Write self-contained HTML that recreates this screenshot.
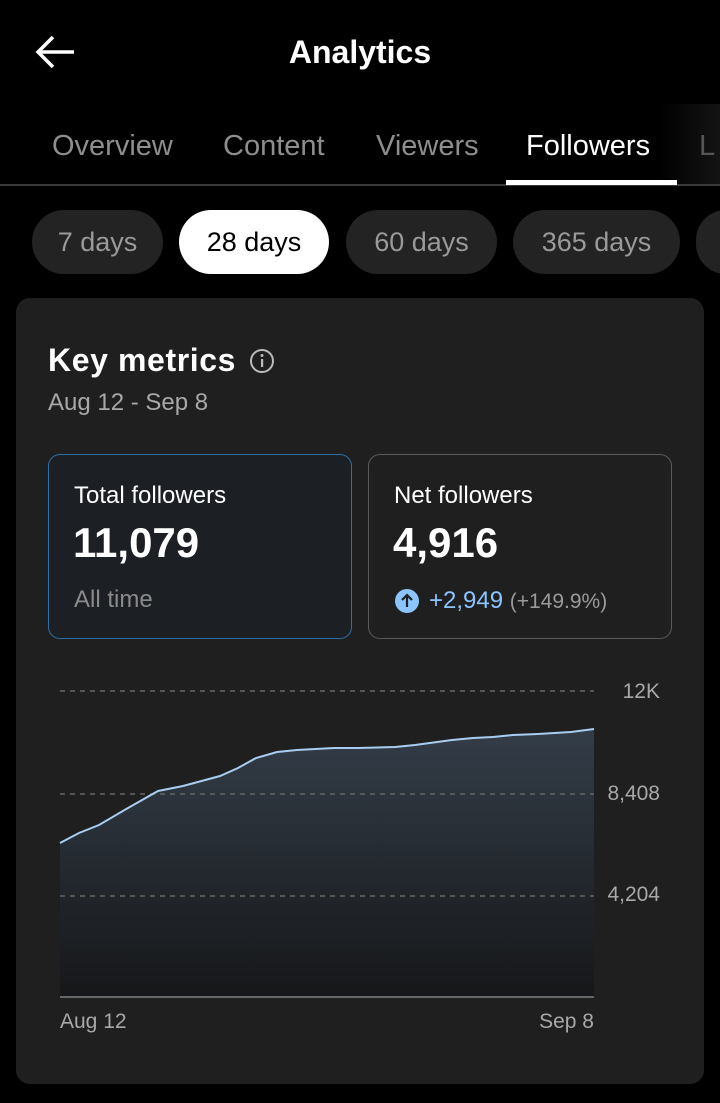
<!DOCTYPE html>
<html><head><meta charset="utf-8"><style>
*{margin:0;padding:0;box-sizing:border-box}
body{width:720px;height:1103px;background:#000;font-family:"Liberation Sans",sans-serif;position:relative;overflow:hidden;color:#fff}
.a{position:absolute;white-space:nowrap}
.tab{font-size:29px;color:#8e8e8e;top:130px}
.pill{position:absolute;top:210px;height:64px;border-radius:32px;background:#232323;color:#9a9a9a;font-size:27px;line-height:64px;text-align:center}
</style></head><body>
<svg class="a" style="left:34px;top:34px" width="44" height="36"><path d="M40 18H4M19 3L4 18L19 33" stroke="#fff" stroke-width="3.5" fill="none"/></svg>
<div class="a" style="left:0;width:720px;text-align:center;top:34px;font-size:32px;font-weight:bold">Analytics</div>
<div class="a tab" style="left:52px">Overview</div>
<div class="a tab" style="left:223px">Content</div>
<div class="a tab" style="left:376px">Viewers</div>
<div class="a tab" style="left:526px;color:#fff">Followers</div>
<div class="a" style="left:660px;top:104px;width:60px;height:80px;background:linear-gradient(90deg,rgba(0,0,0,0.9),#141414)"></div>
<div class="a tab" style="left:699px;color:#555">L</div>
<div class="a" style="left:0;top:184px;width:720px;height:2px;background:#3a3a3a"></div>
<div class="a" style="left:506px;top:180px;width:171px;height:5px;background:#fff"></div>
<div class="pill" style="left:32px;width:131px">7 days</div>
<div class="pill" style="left:179px;width:150px;background:#fff;color:#000">28 days</div>
<div class="pill" style="left:346px;width:151px">60 days</div>
<div class="pill" style="left:513px;width:167px">365 days</div>
<div class="pill" style="left:696px;width:60px"></div>
<div class="a" style="left:16px;top:298px;width:688px;height:786px;background:#1f1f1f;border-radius:14px"></div>
<div class="a" style="left:48px;top:342px;font-size:32px;font-weight:bold;letter-spacing:0.6px">Key metrics</div>
<svg class="a" style="left:249px;top:348px" width="26" height="26"><circle cx="13" cy="13" r="11" stroke="#bbb" stroke-width="2" fill="none"/><rect x="12" y="11" width="2.2" height="8" fill="#bbb"/><circle cx="13" cy="7.5" r="1.5" fill="#bbb"/></svg>
<div class="a" style="left:48px;top:389px;font-size:24px;color:#a8a8a8">Aug 12 - Sep 8</div>
<div class="a" style="left:48px;top:454px;width:304px;height:185px;border:1.5px solid #2f6fa8;border-radius:12px;background:#1c2025"></div>
<div class="a" style="left:368px;top:454px;width:304px;height:185px;border:1.5px solid #5a5a5a;border-radius:12px"></div>
<div class="a" style="left:74px;top:482px;font-size:24px">Total followers</div>
<div class="a" style="left:73px;top:519px;font-size:42px;font-weight:bold">11,079</div>
<div class="a" style="left:74px;top:586px;font-size:24px;color:#8a8a8a">All time</div>
<div class="a" style="left:394px;top:482px;font-size:24px">Net followers</div>
<div class="a" style="left:393px;top:519px;font-size:42px;font-weight:bold">4,916</div>
<svg class="a" style="left:395px;top:589px" width="24" height="24"><circle cx="12" cy="12" r="12" fill="#8cc4ff"/><path d="M12 18V6M7 11l5-5 5 5" stroke="#1f1f1f" stroke-width="2.2" fill="none"/></svg>
<div class="a" style="left:429px;top:587px;font-size:24px;color:#8cc4ff">+2,949 <span style="color:#9a9a9a;font-size:21px">(+149.9%)</span></div>
<svg class="a" style="left:0;top:0" width="720" height="1103">
<defs><linearGradient id="g" x1="0" y1="0" x2="0" y2="1"><stop offset="0" stop-color="#333d48"/><stop offset="1" stop-color="#161719"/></linearGradient></defs>
<path d="M60 843L79 833L99 825L128 808L158 791L183 786L220 776L238 768L256 758L277 752L297 750L334 748L358 748L395 747L415 745L452 740L473 738L493 737L513 735L538 734L571 732L594 729L594 997L60 997Z" fill="url(#g)"/>
<g stroke="#666" stroke-width="1.5" stroke-dasharray="5,5"><line x1="60" y1="691" x2="594" y2="691"/><line x1="60" y1="794" x2="594" y2="794"/><line x1="60" y1="896" x2="594" y2="896"/></g>
<path d="M60 843L79 833L99 825L128 808L158 791L183 786L220 776L238 768L256 758L277 752L297 750L334 748L358 748L395 747L415 745L452 740L473 738L493 737L513 735L538 734L571 732L594 729" stroke="#a9cdf0" stroke-width="2" fill="none"/>
<line x1="60" y1="997" x2="594" y2="997" stroke="#666" stroke-width="2"/>
<g fill="#a8a8a8" font-size="21" font-family="Liberation Sans,sans-serif"><text x="660" y="698" text-anchor="end">12K</text><text x="660" y="800" text-anchor="end">8,408</text><text x="660" y="901" text-anchor="end">4,204</text>
<text x="60" y="1028">Aug 12</text><text x="594" y="1028" text-anchor="end">Sep 8</text></g>
</svg>
</body></html>
